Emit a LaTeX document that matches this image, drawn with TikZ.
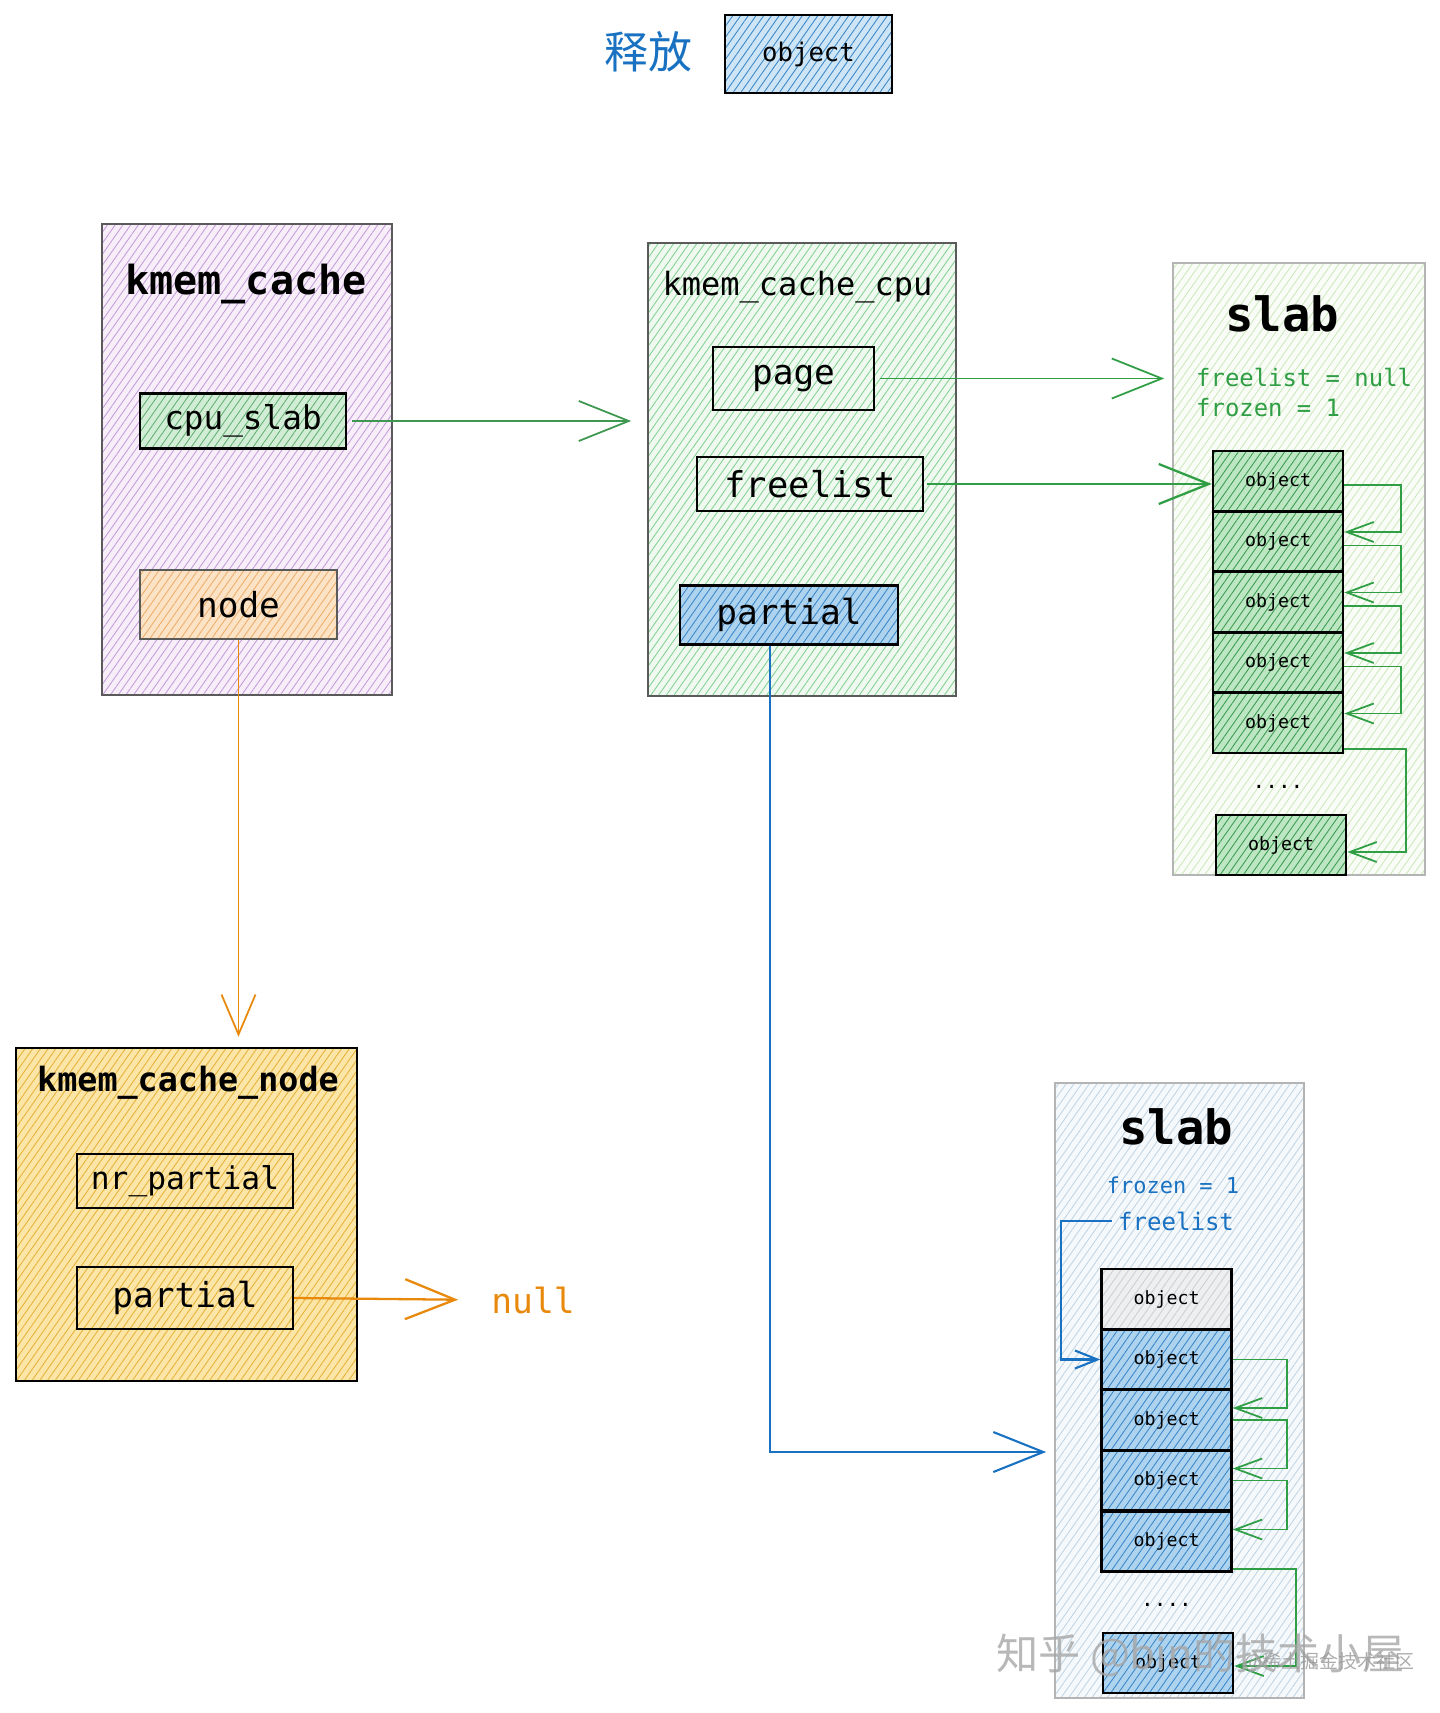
\documentclass[tikz,border=0pt]{standalone}
\usepackage{fontspec}
\setmonofont{DejaVu Sans Mono}
\newfontfamily\cjk{Noto Sans CJK SC}
\usetikzlibrary{arrows.meta,patterns.meta}

\definecolor{purpfill}{HTML}{F7EEFA}
\definecolor{purpline}{HTML}{C59EDB}
\definecolor{grnfill}{HTML}{EFF9F0}
\definecolor{grnline}{HTML}{86D295}
\definecolor{slabgfill}{HTML}{FAFDF7}
\definecolor{slabgline}{HTML}{CDE9BE}
\definecolor{slabbfill}{HTML}{F5F9FC}
\definecolor{slabbline}{HTML}{C3D5E3}
\definecolor{objgfill}{HTML}{BDE6C3}
\definecolor{objgline}{HTML}{3E9C52}
\definecolor{objbfill}{HTML}{AED3EF}
\definecolor{objbline}{HTML}{3C88C8}
\definecolor{yelfill}{HTML}{FBE6A8}
\definecolor{yelline}{HTML}{E8B23A}
\definecolor{orgfill}{HTML}{FCE3C6}
\definecolor{orgline}{HTML}{EDAE6C}
\definecolor{grayfill}{HTML}{EEEFF1}
\definecolor{grayline}{HTML}{CDCFD2}
\definecolor{mygreen}{HTML}{2F9E44}
\definecolor{myblue}{HTML}{1971C2}
\definecolor{myorange}{HTML}{E8890C}
\definecolor{boxgray}{HTML}{5A5A5A}
\definecolor{slabgray}{HTML}{B4B4B4}

\tikzset{
  hatch/.style 2 args={preaction={fill=#1},
    pattern={Lines[angle=55,distance=3.6pt,line width=0.5pt]}, pattern color=#2},
  container/.style={draw=boxgray, line width=1pt, inner sep=0pt},
  slabbox/.style={draw=slabgray, line width=1pt, inner sep=0pt},
  field/.style={draw=black, line width=1.4pt, inner sep=0pt,
    font=\ttfamily\fontsize{19.6pt}{22pt}\selectfont},
  objbox/.style={draw=black, line width=1.4pt, inner sep=0pt,
    minimum width=26mm, minimum height=12mm,
    font=\ttfamily\fontsize{10.4pt}{12pt}\selectfont},
  title/.style={font=\ttfamily\bfseries\fontsize{#1}{#1}\selectfont},
  bigarrow/.style={line width=1pt, -{Straight Barb[length=10mm,width=8mm]}},
  chainarrow/.style={draw=mygreen, line width=1pt, -{Straight Barb[length=5.4mm,width=4mm]}}
}

\begin{document}
\begin{tikzpicture}[x=0.2mm,y=-0.2mm]
  \useasboundingbox (0,0) rectangle (1440,1713);

  % legend
  \node[text=myblue, font=\cjk\fontsize{25pt}{27pt}\selectfont] (release) at (648,52) {释放};
  \node[field, hatch={objbfill!60}{objbline}, minimum width=33.4mm, minimum height=15.6mm,
    font=\ttfamily\fontsize{14.6pt}{16pt}\selectfont] (legendobj) at (808.5,54) {object};

  % kmem_cache
  \node[container, hatch={purpfill}{purpline}, minimum width=58mm, minimum height=94.2mm] (kc) at (247,459.5) {};
  \node[title=22.8pt] (kctitle) at (246,284) {kmem\_cache};
  \node[field, hatch={objgfill!70}{objgline!80}, minimum width=41.2mm, minimum height=11mm,
    font=\ttfamily\fontsize{18.6pt}{20pt}\selectfont] (cpuslab) at (243,421) {cpu\_slab};
  \node[field, draw=boxgray, hatch={orgfill}{orgline}, minimum width=39.4mm, minimum height=13.8mm] (node) at (238.5,604.5) {node};

  % kmem_cache_cpu
  \node[container, hatch={grnfill}{grnline}, minimum width=61.6mm, minimum height=90.6mm] (kcc) at (802,469.5) {};
  \node[font=\ttfamily\fontsize{18.2pt}{20pt}\selectfont] (kcctitle) at (797.5,287) {kmem\_cache\_cpu};
  \node[field, minimum width=32.2mm, minimum height=12.6mm] (page) at (793.5,378.5) {page};
  \node[field, minimum width=45.2mm, minimum height=10.8mm,
    font=\ttfamily\fontsize{20.2pt}{22pt}\selectfont] (freelist) at (810,484) {freelist};
  \node[field, hatch={objbfill}{objbline}, minimum width=43.6mm, minimum height=11.8mm] (partialc) at (789,615) {partial};

  % slab (cpu)
  \node[slabbox, hatch={slabgfill}{slabgline}, minimum width=50.4mm, minimum height=122.4mm] (slabt) at (1299,569) {};
  \node[title=26.9pt] (slabttitle) at (1282,314) {slab};
  \node[anchor=west, text=mygreen, font=\ttfamily\fontsize{13.6pt}{15pt}\selectfont] (flnull) at (1190,378) {freelist = null};
  \node[anchor=west, text=mygreen, font=\ttfamily\fontsize{13.6pt}{15pt}\selectfont] (frozent) at (1190,408) {frozen = 1};
  \foreach \i/\yy in {1/481,2/541.5,3/602,4/662.5,5/723}
    \node[objbox, hatch={objgfill}{objgline}] (ot\i) at (1278,\yy) {object};
  \node[font=\ttfamily\fontsize{12pt}{12pt}\selectfont] (dotst) at (1278,787) {....};
  \node[objbox, hatch={objgfill}{objgline}] (ot6) at (1281,845) {object};

  % kmem_cache_node
  \node[draw=black, line width=1.4pt, inner sep=0pt, hatch={yelfill}{yelline}, minimum width=68.2mm, minimum height=66.6mm] (kcn) at (186.5,1214.5) {};
  \node[title=19pt] (kcntitle) at (188,1083) {kmem\_cache\_node};
  \node[field, hatch={yelfill}{yelline}, minimum width=43.2mm, minimum height=10.8mm,
    font=\ttfamily\fontsize{17.8pt}{20pt}\selectfont] (nrpartial) at (185,1181) {nr\_partial};
  \node[field, hatch={yelfill}{yelline}, minimum width=43.2mm, minimum height=12.4mm] (partialn) at (185,1298) {partial};
  \node[text=myorange, font=\ttfamily\fontsize{19.7pt}{22pt}\selectfont] (null) at (533,1300) {null};

  % slab (partial)
  \node[slabbox, hatch={slabbfill}{slabbline}, minimum width=49.8mm, minimum height=123mm] (slabb) at (1179.5,1390.5) {};
  \node[title=26.9pt] (slabbtitle) at (1176,1127) {slab};
  \node[text=myblue, font=\ttfamily\fontsize{12.5pt}{14pt}\selectfont] (frozenb) at (1173,1185) {frozen = 1};
  \node[text=myblue, font=\ttfamily\fontsize{13.7pt}{15pt}\selectfont] (flb) at (1176,1221) {freelist};
  \node[objbox, hatch={grayfill}{grayline}] (ob1) at (1166.5,1299) {object};
  \foreach \i/\yy in {2/1359.5,3/1420,4/1480.5,5/1541.5}
    \node[objbox, hatch={objbfill}{objbline}] (ob\i) at (1166.5,\yy) {object};
  \node[font=\ttfamily\fontsize{12pt}{12pt}\selectfont] (dotsb) at (1166.5,1605) {....};
  \node[objbox, hatch={objbfill}{objbline}] (ob6) at (1168,1663) {object};

  % pointers
  \draw[bigarrow, draw=mygreen!80!gray, shorten <=1mm, shorten >=3.2mm] (cpuslab.east) -- (cpuslab.east -| kcc.west);
  \draw[bigarrow, draw=mygreen, shorten <=1mm, shorten >=1.6mm] (page.east) -- (page.east -| slabt.west);
  \draw[bigarrow, draw=mygreen, line width=1.3pt, shorten <=0.5mm] (freelist.east) -- (freelist.east -| ot1.west);
  \draw[line width=1pt, draw=myorange, -{Straight Barb[length=8mm,width=6.8mm]}, shorten >=2mm] (node.south) -- (node.south |- kcn.north);
  \draw[bigarrow, draw=myorange, line width=1.3pt, shorten >=5.4mm] (partialn.east) -- (null.west);
  \draw[bigarrow, draw=myblue, line width=1.2pt, shorten >=1.6mm] ([xshift=-3.8mm]partialc.south) |- ([yshift=-12.3mm]slabb.west);
  \draw[draw=myblue, line width=1.2pt, -{Straight Barb[length=4.5mm,width=3.6mm]}] (flb.west) -- ++(-51,0) |- (ob2.west);

  % free object chains
  \foreach \i [count=\j from 2] in {1,...,4}
    \draw[chainarrow] ([yshift=-0.8mm]ot\i.east) -- ++(57,0) |- ([yshift=1.9mm]ot\j.east);
  \draw[chainarrow] ([yshift=1mm]ot5.south east) -- ++(62,0) |- ([yshift=-1.4mm]ot6.east);
  \foreach \i [count=\j from 3] in {2,...,4}
    \draw[chainarrow] (ob\i.east) -- ++(54,0) |- ([yshift=2.4mm]ob\j.east);
  \draw[chainarrow] ([yshift=0.8mm]ob5.south east) -- ++(63,0) |- ([yshift=-0.6mm]ob6.east);

  % watermark
  \node[text=gray!70, opacity=0.8, anchor=west, font=\cjk\fontsize{24pt}{26pt}\selectfont] (wm) at (990,1655) {知乎 @bin的技术小屋};
  \node[text=gray!80, opacity=0.8, anchor=west, font=\cjk\fontsize{10.8pt}{12pt}\selectfont] (wmsub) at (1238,1662) {@稀土掘金技术社区};
\end{tikzpicture}
\end{document}
